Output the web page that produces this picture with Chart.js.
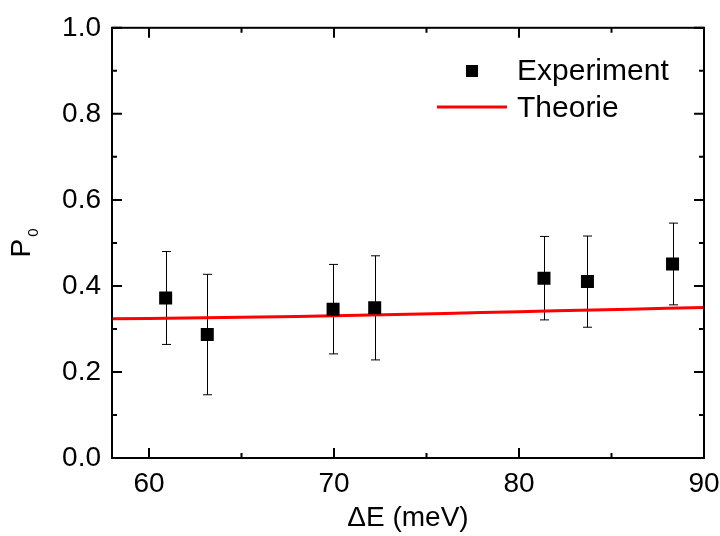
<!DOCTYPE html>
<html>
<head>
<meta charset="utf-8">
<script src="https://cdn.jsdelivr.net/npm/chart.js@4.4.1/dist/chart.umd.min.js"></script>
<style>
  html, body { margin: 0; padding: 0; background: #fff; }
</style>
</head>
<body>
<canvas id="chart" width="720" height="536"></canvas>
<script>
// measured points (Experiment) with symmetric error
const expEnergy = [60.9, 63.15, 69.95, 72.2, 81.35, 83.7, 88.3];
const expP0 = [0.372, 0.287, 0.346, 0.349, 0.418, 0.410, 0.451];
const expErr = [0.108, 0.140, 0.104, 0.121, 0.097, 0.106, 0.095];

// theory curve
const theoEnergy = [58, 62, 66, 70, 74, 78, 82, 86, 90];
const theoP0 = [0.3235, 0.3255, 0.328, 0.3305, 0.334, 0.338, 0.342, 0.346, 0.350];

// ticks
const xMajor = [60, 70, 80, 90];
const xMinor = [65, 75, 85];
const yMajor = [0, 0.2, 0.4, 0.6, 0.8, 1.0];
const yMinor = [0.1, 0.3, 0.5, 0.7, 0.9];

const FONT = "'Liberation Sans', Arial, sans-serif";

const framePlugin = {
  id: 'framePlugin',
  beforeDatasetsDraw(chart) {
    const ctx = chart.ctx;
    const xs = chart.scales.x, ys = chart.scales.y;
    ctx.save();
    ctx.strokeStyle = '#000';
    ctx.lineWidth = 1;
    for (let i = 0; i < expEnergy.length; i++) {
      const px = Math.round(xs.getPixelForValue(expEnergy[i])) + 0.5;
      const top = ys.getPixelForValue(expP0[i] + expErr[i]);
      const bot = ys.getPixelForValue(expP0[i] - expErr[i]);
      ctx.beginPath();
      ctx.moveTo(px, top); ctx.lineTo(px, bot);
      ctx.moveTo(px - 4.5, top); ctx.lineTo(px + 4.5, top);
      ctx.moveTo(px - 4.5, bot); ctx.lineTo(px + 4.5, bot);
      ctx.stroke();
    }
    ctx.restore();
  },
  afterDraw(chart) {
    const ctx = chart.ctx;
    const a = chart.chartArea;
    const xs = chart.scales.x, ys = chart.scales.y;
    ctx.save();
    ctx.strokeStyle = '#000';
    ctx.lineWidth = 2;
    ctx.strokeRect(a.left, a.top, a.right - a.left, a.bottom - a.top);

    ctx.beginPath();
    xMajor.forEach(v => {
      const p = xs.getPixelForValue(v);
      ctx.moveTo(p, a.bottom); ctx.lineTo(p, a.bottom - 10);
      ctx.moveTo(p, a.top); ctx.lineTo(p, a.top + 10);
    });
    xMinor.forEach(v => {
      const p = xs.getPixelForValue(v);
      ctx.moveTo(p, a.bottom); ctx.lineTo(p, a.bottom - 5);
      ctx.moveTo(p, a.top); ctx.lineTo(p, a.top + 5);
    });
    yMajor.forEach(v => {
      const p = ys.getPixelForValue(v);
      ctx.moveTo(a.left, p); ctx.lineTo(a.left + 10, p);
      ctx.moveTo(a.right, p); ctx.lineTo(a.right - 10, p);
    });
    yMinor.forEach(v => {
      const p = ys.getPixelForValue(v);
      ctx.moveTo(a.left, p); ctx.lineTo(a.left + 5, p);
      ctx.moveTo(a.right, p); ctx.lineTo(a.right - 5, p);
    });
    ctx.stroke();

    // axis titles
    ctx.fillStyle = '#000';
    ctx.font = '28px ' + FONT;
    ctx.textAlign = 'center';
    ctx.textBaseline = 'alphabetic';
    ctx.fillText('\u0394E (meV)', (a.left + a.right) / 2, 526);

    ctx.save();
    ctx.translate(30, (a.top + a.bottom) / 2);
    ctx.rotate(-Math.PI / 2);
    ctx.textAlign = 'left';
    ctx.font = '28px ' + FONT;
    const pw = ctx.measureText('P').width;
    ctx.font = '15px ' + FONT;
    const sw = ctx.measureText('0').width;
    const start = -(pw + sw + 2) / 2;
    ctx.font = '28px ' + FONT;
    ctx.fillText('P', start, 0);
    ctx.font = '15px ' + FONT;
    ctx.fillText('0', start + pw + 2, 8);
    ctx.restore();

    // legend
    const ds0 = chart.data.datasets[0], ds1 = chart.data.datasets[1];
    ctx.fillStyle = ds0.backgroundColor;
    ctx.fillRect(466, 65, 12, 12);
    ctx.strokeStyle = ds1.borderColor;
    ctx.lineWidth = 3;
    ctx.beginPath();
    ctx.moveTo(437, 107); ctx.lineTo(507, 107);
    ctx.stroke();
    ctx.fillStyle = '#000';
    ctx.font = '30px ' + FONT;
    ctx.textAlign = 'left';
    ctx.fillText(ds0.label, 517, 80);
    ctx.fillText(ds1.label, 517, 117);
    ctx.restore();
  }
};

new Chart(document.getElementById('chart'), {
  type: 'scatter',
  data: {
    datasets: [
      {
        label: 'Experiment',
        data: expEnergy.map((e, i) => ({ x: e, y: expP0[i] })),
        backgroundColor: '#000',
        borderColor: '#000',
        borderWidth: 0,
        pointStyle: 'rect',
        pointRadius: 9.2,
        pointHoverRadius: 9.2
      },
      {
        label: 'Theorie',
        type: 'line',
        data: theoEnergy.map((e, i) => ({ x: e, y: theoP0[i] })),
        borderColor: '#ff0000',
        borderWidth: 3,
        pointRadius: 0,
        tension: 0.3,
        fill: false
      }
    ]
  },
  options: {
    responsive: false,
    animation: false,
    devicePixelRatio: 1,
    layout: { padding: { left: 0, top: 24, right: 0, bottom: 0 } },
    plugins: { legend: { display: false }, tooltip: { enabled: false } },
    scales: {
      x: {
        type: 'linear',
        min: 58,
        max: 90,
        grid: { display: false, drawTicks: false },
        border: { display: false },
        afterBuildTicks: s => { s.ticks = xMajor.map(v => ({ value: v })); },
        afterFit: s => { s.height = 78; s.paddingLeft = 0; s.paddingRight = 16; },
        ticks: {
          padding: 9,
          maxRotation: 0,
          color: '#000',
          font: { family: FONT, size: 28 }
        }
      },
      y: {
        type: 'linear',
        min: 0,
        max: 1,
        grid: { display: false, drawTicks: false },
        border: { display: false },
        afterBuildTicks: s => { s.ticks = yMajor.map(v => ({ value: v })); },
        afterFit: s => { s.width = 112; },
        ticks: {
          padding: 11,
          color: '#000',
          font: { family: FONT, size: 28 },
          callback: v => Number(v).toFixed(1)
        }
      }
    }
  },
  plugins: [framePlugin]
});
</script>
</body>
</html>
